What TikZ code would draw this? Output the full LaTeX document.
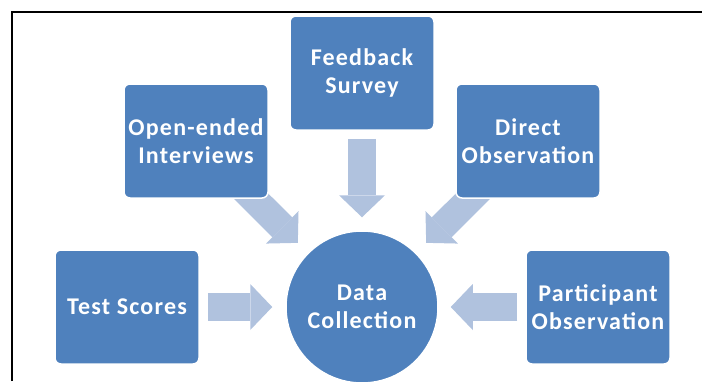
\documentclass[tikz,border=0pt]{standalone}
\usepackage{fontspec}
\setmainfont{Carlito}[LetterSpace=5]
\usetikzlibrary{arrows.meta,backgrounds}
\definecolor{caja}{HTML}{4F81BD}
\definecolor{flecha}{HTML}{B0C2DE}

\begin{document}
\begin{tikzpicture}[x=1pt,y=-1pt,
    box/.style={rectangle,rounded corners=6pt,fill=caja,draw=white,line width=1.5pt,
                minimum width=144pt,minimum height=114pt,text=white,align=center,
                font=\bfseries\fontsize{24}{28}\selectfont},
    hub/.style={box,circle,rounded corners=0pt,minimum size=152pt},
    blockarr/.style={flecha,line width=28pt,
                -{Triangle[length=22pt,width=46pt,line width=0pt]}}]
  \useasboundingbox (0,0) rectangle (702,381);
  % frame (only the two sides that fall on the page)
  \draw[line width=2.5pt] (12,381) |- (702,12);
  % the sources
  \node[box] (oi) at (196,141) {Open-ended\\Interviews};
  \node[box] (fb) at (362,73)  {Feedback\\Survey};
  \node[box] (do) at (528,141) {Direct\\Observation};
  \node[box] (ts) at (127,307) {Test Scores};
  \node[box] (po) at (598,307) {Participant\\Observation};
  \node[hub] (dc) at (362,307) {Data\\Collection};
  % block arrows into the hub
  \begin{scope}[on background layer]
    \draw[blockarr,shorten <=8pt,shorten >=13pt] (ts) -- (dc);
    \draw[blockarr,shorten <=8pt,shorten >=12pt] (po) -- (dc);
    \draw[blockarr,shorten <=8pt,shorten >=13pt] (fb) -- (dc);
    \draw[blockarr,shorten <=-18pt,shorten >=14pt] (oi) -- (dc);
    \draw[blockarr,shorten <=-18pt,shorten >=14pt] (do) -- (dc);
  \end{scope}
\end{tikzpicture}
\end{document}
